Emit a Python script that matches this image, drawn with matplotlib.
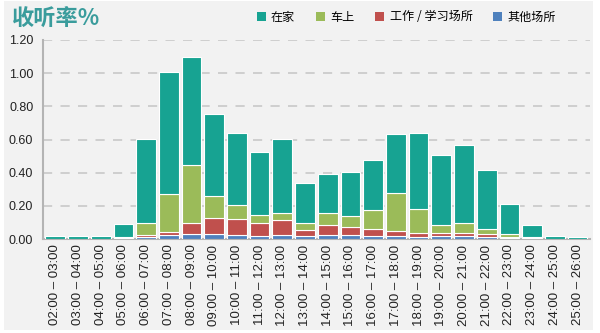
import matplotlib
matplotlib.use("Agg")
import matplotlib.pyplot as plt
from matplotlib.patches import Rectangle, Patch
import numpy as np

plt.rcParams['font.family'] = ['Liberation Sans', 'Noto Sans CJK SC', 'DejaVu Sans']

hours = list(range(2, 26))
slots = ['%02d:00 – %02d:00' % (h, h + 1) for h in hours]

# ratings by listening place, stacked bottom-up: other, work/school, in car, at home
other = [0.000, 0.000, 0.000, 0.002, 0.014, 0.022, 0.030, 0.028, 0.022, 0.018, 0.022, 0.020,
         0.026, 0.024, 0.018, 0.016, 0.014, 0.018, 0.020, 0.010, 0.006, 0.002, 0.000, 0.000]
work = [0.000, 0.000, 0.000, 0.003, 0.010, 0.018, 0.069, 0.101, 0.101, 0.081, 0.093, 0.036,
        0.061, 0.049, 0.045, 0.030, 0.024, 0.020, 0.018, 0.020, 0.008, 0.004, 0.000, 0.000]
car = [0.000, 0.000, 0.000, 0.005, 0.071, 0.234, 0.345, 0.131, 0.081, 0.048, 0.042, 0.039,
       0.068, 0.066, 0.110, 0.230, 0.141, 0.047, 0.059, 0.033, 0.014, 0.006, 0.001, 0.000]
home = [0.016, 0.016, 0.020, 0.080, 0.510, 0.734, 0.653, 0.494, 0.435, 0.375, 0.446, 0.242,
        0.234, 0.264, 0.301, 0.359, 0.460, 0.421, 0.472, 0.352, 0.186, 0.073, 0.019, 0.014]

series = [
    ('其他场所', other, '#4f81bd'),
    ('工作 / 学习场所', work, '#c0504d'),
    ('车上', car, '#9bbb59'),
    ('在家', home, '#17a392'),
]

fig = plt.figure(figsize=(6, 3.33), dpi=100)
fig.patch.set_facecolor('white')
fig.patches.append(Rectangle((4 / 600, 3 / 333), 589 / 600, 329 / 333,
                             transform=fig.transFigure, facecolor='#f2f2f2',
                             edgecolor='none', zorder=0))

ax = fig.add_axes([43 / 600, 94 / 333, 547 / 600, 199 / 333])
ax.set_zorder(2)
ax.set_facecolor('none')

x = np.arange(len(slots))
bottom = np.zeros(len(slots))
for name, vals, col in series:
    ax.bar(x, vals, width=0.87, bottom=bottom, color=col, edgecolor='white',
           linewidth=0.8, label=name, zorder=3)
    bottom += np.array(vals)

ax.set_xlim(-0.54, len(slots) - 0.45)
ax.set_ylim(0, 1.2)
ax.set_yticks(np.arange(0, 1.21, 0.2))
ax.set_yticklabels(['%.2f' % v for v in np.arange(0, 1.21, 0.2)])
ax.set_xticks(x)
ax.set_xticklabels(slots, rotation=90)
ax.tick_params(axis='x', length=0, pad=4, labelsize=9.5, colors='#222222')
ax.tick_params(axis='y', length=0, pad=7, labelsize=9, colors='#222222')

ax.yaxis.grid(True, color='#c8c8c8', linestyle=(0, (5.5, 5)), linewidth=1.2, zorder=1)
ax.set_axisbelow(True)
for side in ('top', 'right'):
    ax.spines[side].set_visible(False)
for side in ('left', 'bottom'):
    ax.spines[side].set_color('#b4b4b4')
    ax.spines[side].set_linewidth(1.5)

fig.text(12 / 600, 1 - 18 / 333, '收听率%', fontsize=16, fontweight='bold',
         color='#3a9c9c', va='center', ha='left',
         family=['Noto Sans CJK SC', 'DejaVu Sans'])

handles = [Patch(facecolor=c, edgecolor='none') for _, _, c in series[::-1]]
labels = [n for n, _, _ in series[::-1]]
fig.legend(handles, labels, loc='center right', bbox_to_anchor=(0.945, 1 - 17 / 333),
           ncol=4, frameon=False, handlelength=0.75, handleheight=0.75,
           handletextpad=0.45, columnspacing=1.7,
           prop={'family': ['Noto Sans CJK SC', 'DejaVu Sans'], 'size': 8.7})

fig.savefig('out.png', dpi=100)
